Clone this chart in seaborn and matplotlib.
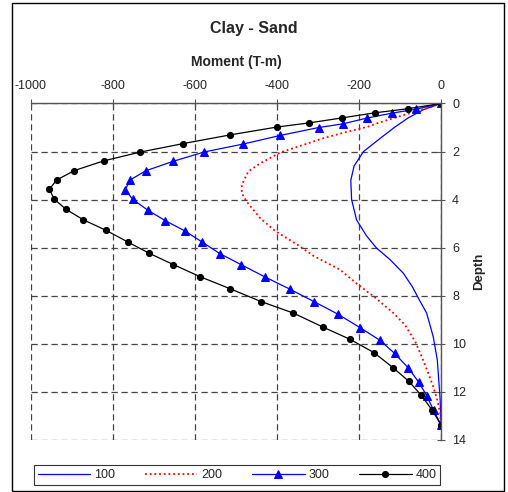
import matplotlib
matplotlib.use("Agg")
import matplotlib.pyplot as plt
import seaborn as sns
import pandas as pd
from matplotlib.patches import Rectangle

# ---- data ----
depth_100 = [0, 0.26, 0.6, 1.0, 1.5, 2.0, 2.6, 3.2, 4.0, 4.84, 5.5, 6.02, 6.5,
             7.06, 7.62, 8.2, 8.72, 9.7, 10.67, 11.63, 12.33, 13.37]
moment_100 = [0, -43, -80, -114, -152, -189, -212, -220, -218, -206, -182, -157, -124,
              -92, -70, -52, -35, -19, -9, -5, -2, 0]

depth_200 = [0, 0.19, 0.6, 0.81, 0.97, 1.2, 1.45, 1.73, 2.04, 2.49, 2.83, 3.39, 3.73,
             4.08, 4.77, 5.3, 5.9, 6.34, 6.92, 7.5, 8.1, 8.72, 9.21, 9.9, 10.53,
             11.22, 11.78, 12.33, 12.88, 13.37]
moment_200 = [0, -33, -114, -153, -179, -234, -288, -337, -392, -441, -470, -486, -486,
              -474, -441, -405, -348, -311, -246, -205, -159, -116, -88, -63, -47,
              -31, -19, -9, -2, 0]

depth_300 = [0, 0.24, 0.4, 0.61, 0.85, 1.0, 1.33, 1.69, 2.02, 2.41, 2.8, 3.18, 3.58,
             3.99, 4.44, 4.87, 5.3, 5.77, 6.25, 6.7, 7.22, 7.73, 8.25, 8.76, 9.33,
             9.85, 10.4, 11.0, 11.6, 12.15, 12.77, 13.37]
moment_300 = [0, -61, -119, -181, -240, -298, -392, -483, -578, -654, -720, -758, -770,
              -752, -715, -673, -625, -582, -539, -488, -429, -368, -309, -252, -197,
              -149, -113, -80, -54, -35, -18, 0]

depth_400 = [0, 0.22, 0.39, 0.6, 0.81, 0.98, 1.31, 1.67, 2.02, 2.39, 2.79, 3.18, 3.56,
             3.97, 4.41, 4.84, 5.27, 5.76, 6.23, 6.7, 7.21, 7.71, 8.24, 8.72, 9.31,
             9.81, 10.37, 10.99, 11.55, 12.12, 12.77, 13.37]
moment_400 = [0, -81, -162, -241, -322, -400, -515, -629, -733, -823, -894, -937, -955,
              -944, -914, -872, -818, -764, -712, -653, -587, -514, -439, -360, -287,
              -222, -163, -117, -79, -49, -21, 0]

series_labels = ["100", "200", "300", "400"]
x_ticks = [-1000, -800, -600, -400, -200, 0]
y_ticks = [0, 2, 4, 6, 8, 10, 12, 14]

# ---- style ----
sns.set_style("white")
plt.rcParams["font.family"] = ["Liberation Sans", "DejaVu Sans"]
plt.rcParams["axes.unicode_minus"] = False

fig = plt.figure(figsize=(5.08, 4.92), dpi=100)
ax = fig.add_axes([0.0610, 0.1057, 0.8071, 0.684])

styles = [
    dict(color="#0000FF", linestyle="-", linewidth=0.9, marker=None),
    dict(color="#FF0000", linestyle=(0, (1, 1.6)), linewidth=1.3, marker=None),
    dict(color="#0000FF", linestyle="-", linewidth=0.9, marker="^", markersize=5.2,
         markeredgecolor="#0000FF"),
    dict(color="black", linestyle="-", linewidth=0.9, marker="o", markersize=4.4,
         markeredgecolor="black"),
]
datasets = [(moment_100, depth_100), (moment_200, depth_200),
            (moment_300, depth_300), (moment_400, depth_400)]

for (m, d), lab, st in zip(datasets, series_labels, styles):
    df = pd.DataFrame({"Moment": m, "Depth": d})
    sns.lineplot(data=df, x="Moment", y="Depth", sort=False, estimator=None,
                 orient="y", ax=ax, label=lab, **st)

ax.set_xlim(-1000, 0)
ax.set_ylim(14, 0)
ax.set_xticks(x_ticks)
ax.set_yticks(y_ticks)
ax.xaxis.tick_top()
ax.xaxis.set_label_position("top")
ax.yaxis.tick_right()
ax.yaxis.set_label_position("right")

ax.set_xlabel("Moment (T-m)", fontsize=10, fontweight="bold", labelpad=10)
ax.set_ylabel("Depth", fontsize=9.5, fontweight="bold", labelpad=5)
ax.tick_params(axis="x", direction="inout", length=6, width=0.8, color="#555555",
               labelsize=9, pad=5)
ax.tick_params(axis="y", direction="inout", length=6, width=0.8, color="#555555",
               labelsize=9, pad=5)

ax.grid(True, linestyle=(0, (5, 3)), color="#444444", linewidth=0.9)
for side in ["left", "bottom"]:
    ax.spines[side].set_visible(False)
for side in ["top", "right"]:
    ax.spines[side].set_visible(True)
    ax.spines[side].set_color("#555555")
    ax.spines[side].set_linewidth(1.0)

ax.legend_.remove()
handles, labels = ax.get_legend_handles_labels()
leg = fig.legend(handles, labels, loc="center", ncol=4,
                 bbox_to_anchor=(237 / 508, 1 - 475 / 492),
                 frameon=True, fancybox=False, edgecolor="black",
                 fontsize=9, handlelength=4.2, columnspacing=2.4,
                 handletextpad=0.3, borderpad=0.3)
leg.get_frame().set_linewidth(0.8)

fig.text(254 / 508, 1 - 28 / 492, "Clay - Sand", ha="center", va="center",
         fontsize=11.5, fontweight="bold")

fig.patches.append(Rectangle((12 / 508, 1 - 491 / 492), 492 / 508, 488 / 492,
                             transform=fig.transFigure, fill=False,
                             edgecolor="black", linewidth=1.0))

fig.savefig("out.png", dpi=100)
